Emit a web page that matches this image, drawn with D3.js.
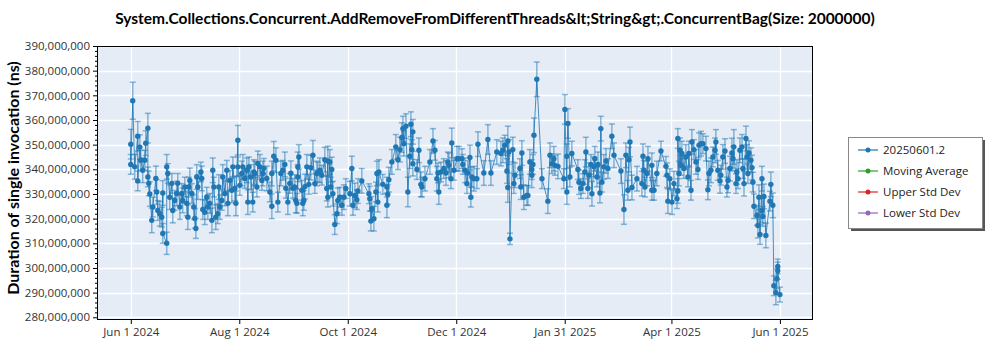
<!DOCTYPE html>
<html><head><meta charset="utf-8">
<script src="https://cdn.jsdelivr.net/npm/d3@7"></script>
<style>
body{margin:0;background:#fff;}
svg{display:block;font-family:"Open Sans","Noto Sans",sans-serif;}
</style></head>
<body><svg id="chart" width="1000" height="350"></svg>
<script>
const title = "System.Collections.Concurrent.AddRemoveFromDifferentThreads&lt;String&gt;.ConcurrentBag(Size: 2000000)";
const yLabel = "Duration of single invocation (ns)";
const startDate = "2024-06-01";
const seriesNames = ["20250601.2", "Moving Average", "Upper Std Dev", "Lower Std Dev"];
const seriesColors = ["#1f77b4", "#2ca02c", "#d62728", "#9467bd"];
const xTickDates = ["2024-06-01","2024-08-01","2024-10-01","2024-12-01","2025-01-31","2025-04-01","2025-06-01"];
const xTickLabels = ["Jun 1 2024","Aug 1 2024","Oct 1 2024","Dec 1 2024","Jan 31 2025","Apr 1 2025","Jun 1 2025"];
const yTicks = [280e6,290e6,300e6,310e6,320e6,330e6,340e6,350e6,360e6,370e6,380e6,390e6];

// days since startDate
const days = [
0,0,1.1,2.2,3.9,3.9,5.1,5.6,6.7,7.9,
8.4,9.6,9.6,10.1,10.7,11.8,12.4,14.1,14.6,15.2,
16.3,17.4,18,18,20.2,20.2,20.8,21.9,23.1,23.6,
24.7,25.9,26.4,27.6,28.7,29.2,30.4,31.5,32.1,32.6,
33.2,34.3,35.4,36,36.6,37.1,37.7,39.4,39.9,40.5,
41.6,42.7,43.3,44.4,45.6,46.1,46.7,47.8,48.9,49.5,
50.1,51.2,51.7,52.9,54,54.6,55.7,56.8,57.4,58.5,
59.1,60.2,60.2,61.3,62.4,63,64.1,65.2,65.8,66.4,
67.5,68.6,69.2,
69.7,70.9,71.4,72.6,73.7,74.2,74.8,76.5,78.2,79.3,
79.3,80.4,81.6,82.7,84.4,85.5,86.6,87.2,88.3,89.4,
90,91.1,92.2,92.8,93.4,93.9,93.9,94.5,96.2,96.7,
97.3,97.9,99,100.1,101.2,102.4,103.5,104.6,105.2,106.3,
107.4,109.1,110.2,110.8,110.8,111.9,112.5,113,113.6,114.7,
115.9,116.4,117.5,118.7,119.8,120.9,123.2,124.3,124.9,126,
127.1,127.7,129.9,133.9,134.4,135,135.5,136.7,137.8,138.4,
138.9,139.5,141.7,
144,144,144.5,145.1,146.8,149,150.2,151.3,152.4,153,
153.5,154.7,155.8,156.9,157.5,158,158.6,158.6,160.9,162,
163.1,163.7,165.4,168.2,169.9,171,172.1,172.7,173.2,174.4,
176,177.2,178.3,178.9,180,180.5,181.7,183.4,184.5,186.2,
186.7,187.9,189,189.5,190.7,191.2,191.8,192.9,194.6,195.2,
198.5,200.8,202.5,205.8,208.1,209.2,210.3,211.5,212,212,
212.6,213.2,214.8,215.4,
216,218.8,219.3,219.9,221,222.7,223.3,224.4,225.5,225.5,
226.1,226.7,228.3,231.2,234.5,235.7,236.8,237.9,238.5,240.2,
243.5,244.1,245.2,245.2,245.8,246.9,248,251.4,252,253.1,
254.2,255.3,255.9,257,257.6,258.7,259.3,260.4,260.9,262.1,
262.7,263.8,264.3,264.9,266,267.2,268.3,270.5,271.7,275.6,
277.3,278.4,279.5,280.1,280.7,281.8,284.6,287.4,288,288.5,
289.1,290.2,290.8,293,293,294.2,295.8,298.1,300.9,301.5,
302,303.1,304.3,305.4,307.1,307.6,307.6,308.2,308.8,309.3,
309.9,311,312.1,313.3,313.8,315,315.5,316.6,317.8,318.9,
319.5,320.6,321.7,323.4,324.5,325.1,326.2,327.3,328.5,329,
330.1,331.3,331.8,332.9,334.1,335.2,335.8,336.9,338,338.6,
339.1,340.3,340.8,341.4,342.5,343.7,344.2,344.8,345.9,346.5,
347,347.6,348.7,349.3,349.8,350.4,352.1,352.6,353.2,353.8,
354.9,354.9,355.4,356,357.1,359.4,359.9,361,361.6,362.7,
363.3,363.8,363.8,365
];
// duration, millions of ns
const values = [
350.2,342,367.8,341,353.4,335.3,349,343.7,339.6,343.7,
350.6,356.7,336.9,334.3,330,319.3,324.7,336.3,330.8,323.3,
322,320.6,330.4,314,310,341,338.3,328.7,334.3,323.3,
327.4,330.2,334.3,324.7,330.2,327.4,332.8,326.2,320.6,332.8,
335.5,330.2,324.7,320.1,316,336.9,332.8,338.9,336.3,323.7,
322.6,328.7,324.7,326.2,319.3,339.6,332.8,320.6,322,332.8,
324.7,327.4,336.9,330.2,339.6,326.2,335.5,331.5,341,332.3,
326.2,351.8,341,333.5,338.3,341,336.3,339.6,326.7,341,
336.9,326.7,338.9,
338.3,332.8,342.4,341,335.5,338.3,340.4,336.3,330.8,325,
338.3,345.3,343.7,326.7,338.3,339.6,342,332.3,326.7,334.3,
338.4,332.3,332.8,327.4,326.2,336.9,341,345,331.5,326.2,
327.4,333,341,333.9,340.7,345.7,334.2,338.3,338.9,339.6,
337.6,343.9,332.2,343.4,328.7,343,332.8,339.9,330.1,317.6,
322,327.4,328.7,325.4,328.7,332.2,330.1,340.3,325.4,329.4,
327.7,331.2,335.3,330.1,328.1,319,324,320,330.8,338.3,
326.7,338.9,333.9,
332.8,325.4,329.8,335.8,343,349.1,343.9,348,352.9,356.5,
350.4,357.5,330.8,345.3,358.3,348,355.2,342.3,339.9,347.7,
333.9,332.8,336.2,343,351.5,347.7,336.2,338.5,330.8,338.9,
340.3,338.5,343,341.6,336.2,350.7,339.6,344.3,344.3,344.3,
342,339.6,334.2,338.5,344.8,328.7,336.9,336.2,336.2,350.2,
338.5,352.1,338.5,347,346.4,347.7,349.8,339.3,351.5,332.6,
347,311.8,348,334.2,
337.6,340.3,332.8,346.6,328.7,329.4,329.4,343,337.6,339.9,
342,353.8,376.5,336.2,327.1,345.7,342.3,344.3,341.6,341.2,
336.2,364.3,330.8,345.3,358.6,336.9,346.4,339.9,334.8,332.2,
334.2,338.9,347,332.2,337.6,342,330.1,341,344.3,336.9,
342,330.4,356.5,334.8,341,343.4,340.3,353.4,345.7,339.3,
323.7,345.7,331.5,343.9,351.1,332.6,336.2,334.2,345.3,339.6,
332.8,338.3,344.3,331.5,341.6,331.5,338.3,347.4,341.2,337.6,
327.1,336.2,326.7,334.2,328.1,331.2,352.5,338.3,347.7,341.6,
346.4,340.3,345,336.9,346.4,331.5,351.1,348,343,339.9,
349.8,350.4,350.4,348.4,331.7,338.3,339.6,345,347.7,351.1,
339.6,335.3,337.6,345,347.4,332.8,335.5,340.3,346.6,344.3,
349.1,334.2,338.9,336.2,347.7,349.1,340.3,334.2,352.5,345,
338.3,346.6,343.7,340.7,334.8,325,321.3,317.2,328.7,313.6,
336.2,323.3,320.9,329,313.2,327.1,333.9,325.4,292.8,290.1,
295.6,300.6,298.9,289.2
];
// error bar half-width, millions of ns
const errors = [
6,4,7.5,5,6,4,5,4,5,4,
5,6,4,5,5,5,4,5,5,4,
5,4,5,4,4.5,5,4,5,4,5,
4,5,4,5,4,5,4,5,5,4,
5,4,5,4,4,5,5,4,5,4,
5,4,5,4,5,5,4,5,4,5,
5,4,5,5,4,5,4,5,4,5,
5,6,4,4,5,5,4,5,5,4,
5,4,5,
5,4,5,5,4,5,4,5,4,5,
5,6,5,4,5,4,5,4,5,4,
5,4,5,5,4,5,6,5,4,5,
4,5,5,4,5,6,4,5,4,5,
4,5,5,6,4,5,4,5,5,4,
4,5,4,4,5,4,5,5,4,5,
4,5,5,4,5,4,5,5,4,5,
4,5,4,
4,5,4,5,5,5,4,5,6,5,
5,5,6,5,5,4,5,5,4,5,
5,4,5,5,5,4,5,4,5,4,
4,5,4,5,4,6,4,5,5,4,
4,5,4,5,5,4,4,5,4,5,
5,6,5,5,5,5,4,5,6,6,
5,2.3,5,4,
5,4,5,5,5,4,4,5,5,4,
4,7,7,4,5,5,4,5,4,5,
4,6,5,5,6,4,5,4,5,4,
4,5,6,4,5,4,5,4,5,4,
5,4,5,4,5,5,4,5,5,5,
6,5,4,5,6,5,5,5,5,4,
4,5,5,4,5,4,5,4,4,5,
5,4,5,5,4,5,4,5,5,4,
5,4,5,4,5,4,5,4,5,4,
5,5,4,5,4,5,5,4,5,5,
4,5,4,5,5,4,5,5,6,5,
7,4,5,4,5,5,4,5,5,5,
4,5,5,5,4,5,4,5,5,4,
5,5,4,5,5,4,5,5,4,5,
4,3,3.5,3
];

const W = 1000, H = 350;
const m = {left: 97, right: 813, top: 46, bottom: 320};
const svg = d3.select("#chart");
const parse = d3.utcParse("%Y-%m-%d");
const t0 = parse(startDate);
const dayMs = 86400000;
const data = days.map((d, i) => ({date: new Date(t0.getTime() + d*dayMs), v: values[i]*1e6, e: errors[i]*1e6}));

const x = d3.scaleUtc().domain([parse("2024-05-13"), new Date(parse("2025-06-19").getTime()+0.6*dayMs)]).range([m.left, m.right]);
const y = d3.scaleLinear().domain([278.9e6, 390e6]).range([m.bottom, m.top]);

svg.append("rect").attr("x", m.left).attr("y", m.top).attr("width", m.right-m.left).attr("height", m.bottom-m.top).attr("fill", "#e5ecf6");

const grid = svg.append("g").attr("stroke", "#fff").attr("stroke-width", 1.3);
grid.selectAll("line.gy").data(yTicks).join("line")
  .attr("x1", m.left).attr("x2", m.right).attr("y1", d => Math.round(y(d))+0.5).attr("y2", d => Math.round(y(d))+0.5);
grid.selectAll("line.gx").data(xTickDates).join("line")
  .attr("y1", m.top).attr("y2", m.bottom).attr("x1", d => Math.round(x(parse(d)))+0.5).attr("x2", d => Math.round(x(parse(d)))+0.5);

const clip = svg.append("clipPath").attr("id","clip").append("rect").attr("x", m.left).attr("y", m.top).attr("width", m.right-m.left).attr("height", m.bottom-m.top);
const plot = svg.append("g").attr("clip-path","url(#clip)");
const col = seriesColors[0];

// error bars
const eb = plot.append("g").attr("stroke", col).attr("stroke-opacity", 0.5).attr("stroke-width", 1.5);
eb.selectAll("line.v").data(data).join("line").attr("class","v")
  .attr("x1", d => x(d.date)).attr("x2", d => x(d.date))
  .attr("y1", d => y(d.v - d.e)).attr("y2", d => y(d.v + d.e));
eb.selectAll("line.ct").data(data).join("line").attr("class","ct")
  .attr("x1", d => x(d.date)-3).attr("x2", d => x(d.date)+3)
  .attr("y1", d => y(d.v + d.e)).attr("y2", d => y(d.v + d.e));
eb.selectAll("line.cb").data(data).join("line").attr("class","cb")
  .attr("x1", d => x(d.date)-3).attr("x2", d => x(d.date)+3)
  .attr("y1", d => y(d.v - d.e)).attr("y2", d => y(d.v - d.e));

plot.append("path").datum(data)
  .attr("d", d3.line().x(d => x(d.date)).y(d => y(d.v)))
  .attr("fill","none").attr("stroke", col).attr("stroke-width", 1).attr("stroke-opacity", 0.8);

plot.append("g").selectAll("circle").data(data).join("circle")
  .attr("cx", d => x(d.date)).attr("cy", d => y(d.v)).attr("r", 2.7).attr("fill", col);

// frame
svg.append("rect").attr("x", m.left+0.5).attr("y", m.top+0.5).attr("width", m.right-m.left-1).attr("height", m.bottom-m.top-1)
  .attr("fill","none").attr("stroke","#000").attr("stroke-width",1);

// axes
const fmt = d3.format(",");
const yAxis = svg.append("g").attr("transform", `translate(${m.left},0)`)
  .call(d3.axisLeft(y).tickValues(yTicks).tickFormat(fmt).tickSize(4).tickPadding(3));
yAxis.select(".domain").remove();
yAxis.selectAll("text").attr("font-size", 11.5).attr("fill", "#333").attr("font-family", "'Open Sans',sans-serif");
const minorY = d3.range(0, 56).map(i => 280e6 + i*2e6).filter(v => !yTicks.includes(v));
svg.append("g").attr("transform", `translate(${m.left},0)`)
  .call(d3.axisLeft(y).tickValues(minorY).tickFormat("").tickSize(2)).select(".domain").remove();

const xAxis = svg.append("g").attr("transform", `translate(0,${m.bottom})`)
  .call(d3.axisBottom(x).tickValues(xTickDates.map(parse)).tickFormat((d,i) => xTickLabels[i]).tickSize(4).tickPadding(4));
xAxis.select(".domain").remove();
xAxis.selectAll("text").attr("font-size", 11.5).attr("fill", "#333").attr("font-family", "'Open Sans',sans-serif");

// title
svg.append("text").attr("x", 495).attr("y", 24).attr("text-anchor","middle").attr("font-family","Lato,'Open Sans',sans-serif")
  .attr("font-size", 15.5).attr("font-weight","bold").attr("fill","#000").text(title);
svg.append("text").attr("transform", `translate(19,${(m.top+m.bottom)/2 - 5}) rotate(-90)`).attr("font-family","Lato,'Open Sans',sans-serif")
  .attr("text-anchor","middle").attr("font-size", 16).attr("font-weight","bold").attr("fill","#000").text(yLabel);

// legend
const lg = svg.append("g").attr("transform","translate(848,137)");
lg.append("rect").attr("x",3).attr("y",3).attr("width",134).attr("height",91).attr("fill","#555");
lg.append("rect").attr("x",0.5).attr("y",0.5).attr("width",134).attr("height",91).attr("fill","#fff").attr("stroke","#888");
seriesNames.forEach((n,i) => {
  const yy = 13 + i*21;
  lg.append("line").attr("x1",10).attr("x2",30).attr("y1",yy).attr("y2",yy).attr("stroke",seriesColors[i]).attr("stroke-width",1.2);
  lg.append("circle").attr("cx",20).attr("cy",yy).attr("r",2.5).attr("fill",seriesColors[i]);
  lg.append("text").attr("x",35).attr("y",yy+4).attr("font-size",11.5).attr("fill","#222").text(n);
});
</script></body></html>
